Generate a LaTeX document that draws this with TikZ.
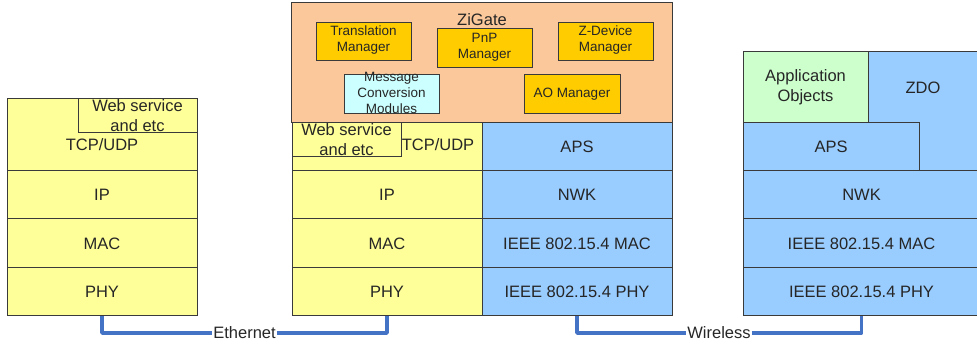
\documentclass[tikz,border=0pt]{standalone}
\usepackage{fontspec}
\setmainfont{Liberation Sans}

\definecolor{stackyellow}{HTML}{FFFF99}
\definecolor{stackblue}{HTML}{99CCFF}
\definecolor{gatepeach}{HTML}{FAC89B}
\definecolor{modulegold}{HTML}{FFCC00}
\definecolor{modulecyan}{HTML}{CCFFFF}
\definecolor{appgreen}{HTML}{CCFFCC}
\definecolor{edge}{HTML}{3A3A3A}
\definecolor{ink}{HTML}{262626}
\definecolor{linkblue}{HTML}{4472C4}

\tikzset{
  cell/.style={draw=edge, line width=1pt, inner sep=0pt, align=center,
    text=ink, font=\fontsize{16.5}{20}\selectfont},
  module/.style={cell, font=\fontsize{13.5}{16}\selectfont},
  plain/.style={inner sep=0pt, align=center, text=ink,
    font=\fontsize{16.5}{20}\selectfont},
  smallplain/.style={plain, font=\fontsize{13.5}{16}\selectfont},
  link/.style={draw=linkblue, line width=3.5pt, line join=round},
  caption/.style={inner sep=1pt, text=ink, font=\fontsize{16.5}{20}\selectfont}
}

% \cellat{name}{x1}{y1}{x2}{y2}{style}{text}: box spanning the two corners
\newcommand\cellat[7]{%
  \node[#6, minimum width={#4-#2}, minimum height={#5-#3}] (#1)
    at ({(#2+#4)/2},{(#3+#5)/2}) {#7};}

\begin{document}
\begin{tikzpicture}[x=1pt, y=-1pt]
\useasboundingbox (0,0) rectangle (977,344);

% ---- IP host stack ----
\cellat{ltcp}{7}{99}{197}{171}{cell, fill=stackyellow}{}
\node[plain] (ltcptext) at (102,145) {TCP/UDP};
\cellat{lip}{7}{171}{197}{219}{cell, fill=stackyellow}{IP}
\cellat{lmac}{7}{219}{197}{268}{cell, fill=stackyellow}{MAC}
\cellat{lphy}{7}{268}{197}{316}{cell, fill=stackyellow}{PHY}
\cellat{lweb}{78}{99}{197}{133}{cell, fill=stackyellow}{}
\node[plain] (lwebtext) at (137.5,115.5) {Web service\\and etc};

% ---- ZiGate ----
\cellat{zigate}{291}{3}{672}{123}{cell, fill=gatepeach}{}
\node[plain] (zigatetitle) at (482,20) {ZiGate};
\cellat{trans}{316}{23}{411}{61}{module, fill=modulegold}{}
\node[smallplain] (transtext) at (363.5,40.5) {Translation\\Manager};
\cellat{pnp}{437}{29}{532}{68}{module, fill=modulegold}{}
\node[smallplain] (pnptext) at (484.5,47.5) {PnP\\Manager};
\cellat{zdev}{558}{23}{653}{61}{module, fill=modulegold}{}
\node[smallplain] (zdevtext) at (605.5,40.5) {Z-Device\\Manager};
\cellat{mcm}{344}{75}{439}{114}{module, fill=modulecyan}{}
\node[smallplain] (mcmtext) at (391.5,93) {Message\\Conversion\\Modules};
\cellat{ao}{524}{75}{620}{114}{module, fill=modulegold}{AO Manager}

\cellat{mtcp}{292}{123}{482}{171}{cell, fill=stackyellow}{}
\node[plain] (mtcptext) at (438,145) {TCP/UDP};
\cellat{mip}{292}{171}{482}{219}{cell, fill=stackyellow}{IP}
\cellat{mmac}{292}{219}{482}{268}{cell, fill=stackyellow}{MAC}
\cellat{mphy}{292}{268}{482}{316}{cell, fill=stackyellow}{PHY}
\cellat{maps}{482}{123}{672}{171}{cell, fill=stackblue}{APS}
\cellat{mnwk}{482}{171}{672}{219}{cell, fill=stackblue}{NWK}
\cellat{mzmac}{482}{219}{672}{268}{cell, fill=stackblue}{IEEE 802.15.4 MAC}
\cellat{mzphy}{482}{268}{672}{316}{cell, fill=stackblue}{IEEE 802.15.4 PHY}
\cellat{mweb}{292}{123}{401}{157}{cell, fill=stackyellow}{}
\node[plain] (mwebtext) at (346.5,139.5) {Web service\\and etc};

% ---- ZigBee device stack ----
\cellat{rzdo}{868}{52}{980}{171}{cell, fill=stackblue}{}
\node[plain] (rzdotext) at (923,88) {ZDO};
\cellat{raps}{743}{123}{919}{171}{cell, fill=stackblue}{APS}
\cellat{rapp}{743}{52}{868}{123}{cell, fill=appgreen}{Application\\Objects}
\cellat{rnwk}{743}{171}{980}{219}{cell, fill=stackblue}{NWK}
\cellat{rmac}{743}{219}{980}{268}{cell, fill=stackblue}{IEEE 802.15.4 MAC}
\cellat{rphy}{743}{268}{980}{316}{cell, fill=stackblue}{IEEE 802.15.4 PHY}

% ---- links ----
\node[caption] (eth) at (244.5,333) {Ethernet};
\draw[link] (lphy.south) |- (eth.west);
\draw[link] (eth.east) -| (mphy.south);
\node[caption] (wless) at (719,333) {Wireless};
\draw[link] (mzphy.south) |- (wless.west);
\draw[link] (wless.east) -| (rphy.south);
\end{tikzpicture}
\end{document}
